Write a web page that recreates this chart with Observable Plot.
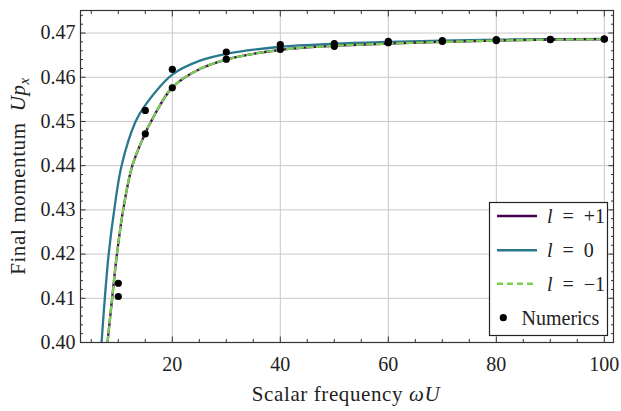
<!DOCTYPE html>
<html>
<head>
<meta charset="utf-8">
<script src="https://cdn.jsdelivr.net/npm/d3@7"></script>
<script src="https://cdn.jsdelivr.net/npm/@observablehq/plot@0.6"></script>
<style>
  html, body { margin: 0; padding: 0; background: #fff; }
  #chart svg { display: block; }
</style>
</head>
<body>
<div id="chart"></div>
<script>
// ---- data ----
// l = 0 curve
const l0X = [6.9, 7.5, 8.22, 9.25, 10.6, 13.2, 15, 20, 25, 30, 40, 50, 60, 70, 80, 90, 100];
const l0Y = [0.400, 0.410, 0.420, 0.430, 0.440, 0.450, 0.4537, 0.4606, 0.4637, 0.4653, 0.4669, 0.4676, 0.4680, 0.4683, 0.4685, 0.4686, 0.4687];
// l = +1 and l = -1 curves (coincide)
const l1X = [8.0, 8.86, 9.75, 10.9, 12.6, 15, 16.2, 20, 25, 30, 40, 50, 60, 70, 80, 90, 100];
const lp1Y = [0.400, 0.410, 0.420, 0.430, 0.440, 0.4474, 0.4503, 0.4577, 0.4618, 0.4640, 0.4662, 0.4671, 0.4676, 0.4680, 0.4683, 0.4685, 0.4686];
const lm1Y = [0.400, 0.410, 0.420, 0.430, 0.440, 0.4474, 0.4503, 0.4577, 0.4618, 0.4640, 0.4662, 0.4671, 0.4676, 0.4680, 0.4683, 0.4685, 0.4686];
// Numerics points
const numX = [10, 10, 15, 15, 20, 20, 30, 30, 40, 40, 50, 50, 60, 60, 70, 70, 80, 80, 90, 90, 100, 100];
const numY = [0.4134, 0.4104, 0.4525, 0.4472, 0.4618, 0.4576, 0.4657, 0.4641, 0.4674, 0.4663, 0.4676, 0.4670, 0.4681, 0.4678, 0.4683, 0.4681, 0.4685, 0.4683, 0.4686, 0.4685, 0.4687, 0.4686];
// ticks
const xMajor = [20, 40, 60, 80, 100];
const xMinor = [5, 10, 15, 25, 30, 35, 45, 50, 55, 65, 70, 75, 85, 90, 95];
const yMajor = [0.40, 0.41, 0.42, 0.43, 0.44, 0.45, 0.46, 0.47];
const yMinor = d3.range(0, 38).map(i => +(0.400 + i * 0.002).toFixed(3)).filter(v => Math.round(v * 1000) % 10 !== 0);
const yTickLabels = ["0.40", "0.41", "0.42", "0.43", "0.44", "0.45", "0.46", "0.47"];
const xTickLabels = ["20", "40", "60", "80", "100"];

const legendSym = ["l", "l", "l"];
const legendVal = ["+1", "0", "\u22121"];
const numericsLabel = "Numerics";
const colors = {p1: "#440154", z: "#2a788e", m1: "#7ad151"};

// ---- tables ----
const l0 = l0X.map((x, i) => ({x, y: l0Y[i]}));
const lp1 = l1X.map((x, i) => ({x, y: lp1Y[i]}));
const lm1 = l1X.map((x, i) => ({x, y: lm1Y[i]}));
const nums = numX.map((x, i) => ({x, y: numY[i]}));

const W = 621, H = 411;
const FONT = "'Liberation Serif', 'Times New Roman', serif";

const tickOpts = {stroke: "#333", strokeWidth: 1, fill: "none", label: null};

const svg = Plot.plot({
  width: W, height: H,
  marginTop: 10, marginBottom: 69, marginLeft: 80, marginRight: 8,
  x: {domain: [3, 101.7]},
  y: {domain: [0.40, 0.4751]},
  style: {fontFamily: FONT, fontSize: "20px", color: "#222", background: "#fff"},
  marks: [
    Plot.gridX(xMajor, {stroke: "#c8c8c8", strokeOpacity: 1, strokeWidth: 1}),
    Plot.gridY(yMajor, {stroke: "#c8c8c8", strokeOpacity: 1, strokeWidth: 1}),
    Plot.line(l0, {x: "x", y: "y", stroke: colors.z, strokeWidth: 2.3, curve: "catmull-rom", clip: true}),
    Plot.line(lp1, {x: "x", y: "y", stroke: colors.p1, strokeWidth: 2.3, curve: "catmull-rom", clip: true}),
    Plot.line(lm1, {x: "x", y: "y", stroke: colors.m1, strokeWidth: 2.3, strokeDasharray: "6,4", curve: "catmull-rom", clip: true}),
    Plot.dot(nums, {x: "x", y: "y", r: 3.6, fill: "#000", stroke: "none"}),
    // major ticks with labels
    Plot.axisX(xMajor, {anchor: "bottom", tickSize: -5.5, tickPadding: 19.5, tickFormat: (d, i) => xTickLabels[i], stroke: "#333", fill: "#222", label: null}),
    Plot.axisY(yMajor, {anchor: "left", tickSize: -5.5, tickPadding: 10.5, tickFormat: (d, i) => yTickLabels[i], stroke: "#333", fill: "#222", label: null}),
    // other ticks (inward)
    Plot.axisX(xMajor, {anchor: "top", tickSize: -5.5, ...tickOpts}),
    Plot.axisY(yMajor, {anchor: "right", tickSize: -5.5, ...tickOpts}),
    Plot.axisX(xMinor, {anchor: "bottom", tickSize: -3, ...tickOpts}),
    Plot.axisX(xMinor, {anchor: "top", tickSize: -3, ...tickOpts}),
    Plot.axisY(yMinor, {anchor: "left", tickSize: -3, ...tickOpts}),
    Plot.axisY(yMinor, {anchor: "right", tickSize: -3, ...tickOpts}),
    Plot.frame({stroke: "#333", strokeWidth: 1.2})
  ]
});

document.getElementById("chart").appendChild(svg);

// ---- axis labels (rich text) ----
const s = d3.select(svg);
const xl = s.append("text")
  .attr("x", 346).attr("y", 401)
  .attr("text-anchor", "middle")
  .attr("font-family", FONT).attr("font-size", 21).attr("fill", "#222")
  .attr("letter-spacing", 0.6);
xl.append("tspan").text("Scalar frequency ");
xl.append("tspan").attr("font-style", "italic").text("\u03C9U");

const yl = s.append("text")
  .attr("transform", "translate(25,176) rotate(-90)")
  .attr("text-anchor", "middle")
  .attr("font-family", FONT).attr("font-size", 21).attr("fill", "#222")
  .attr("letter-spacing", 0.6);
yl.append("tspan").text("Final momentum\u2002");
yl.append("tspan").attr("font-style", "italic").text("Up");
yl.append("tspan").attr("font-style", "italic").attr("font-size", 15).attr("dy", 4).text("x");

// ---- legend ----
const lg = s.append("g").attr("font-family", FONT).attr("font-size", 20).attr("fill", "#222")
  .attr("text-anchor", "start");
lg.append("rect").attr("x", 489.5).attr("y", 202.5).attr("width", 118).attr("height", 133)
  .attr("fill", "#fff").attr("stroke", "#222").attr("stroke-width", 1.2);
const rows = [216, 250.3, 283.7, 317.7];
const sample = [
  {stroke: colors.p1, dash: null},
  {stroke: colors.z, dash: null},
  {stroke: colors.m1, dash: "6,4"}
];
sample.forEach((d, i) => {
  lg.append("line").attr("x1", 497).attr("x2", 537).attr("y1", rows[i]).attr("y2", rows[i])
    .attr("stroke", d.stroke).attr("stroke-width", 2.5).attr("stroke-dasharray", d.dash);
  const t = lg.append("text").attr("x", 547).attr("y", rows[i]).attr("dy", "0.35em").attr("text-anchor", "start");
  t.append("tspan").attr("font-style", "italic").text(legendSym[i]);
  t.append("tspan").text("\u2002=\u2002" + legendVal[i]);
});
lg.append("circle").attr("cx", 503.3).attr("cy", rows[3]).attr("r", 3.6).attr("fill", "#000");
lg.append("text").attr("x", 521.5).attr("y", rows[3]).attr("dy", "0.35em").attr("text-anchor", "start").text(numericsLabel);
</script>
</body>
</html>
